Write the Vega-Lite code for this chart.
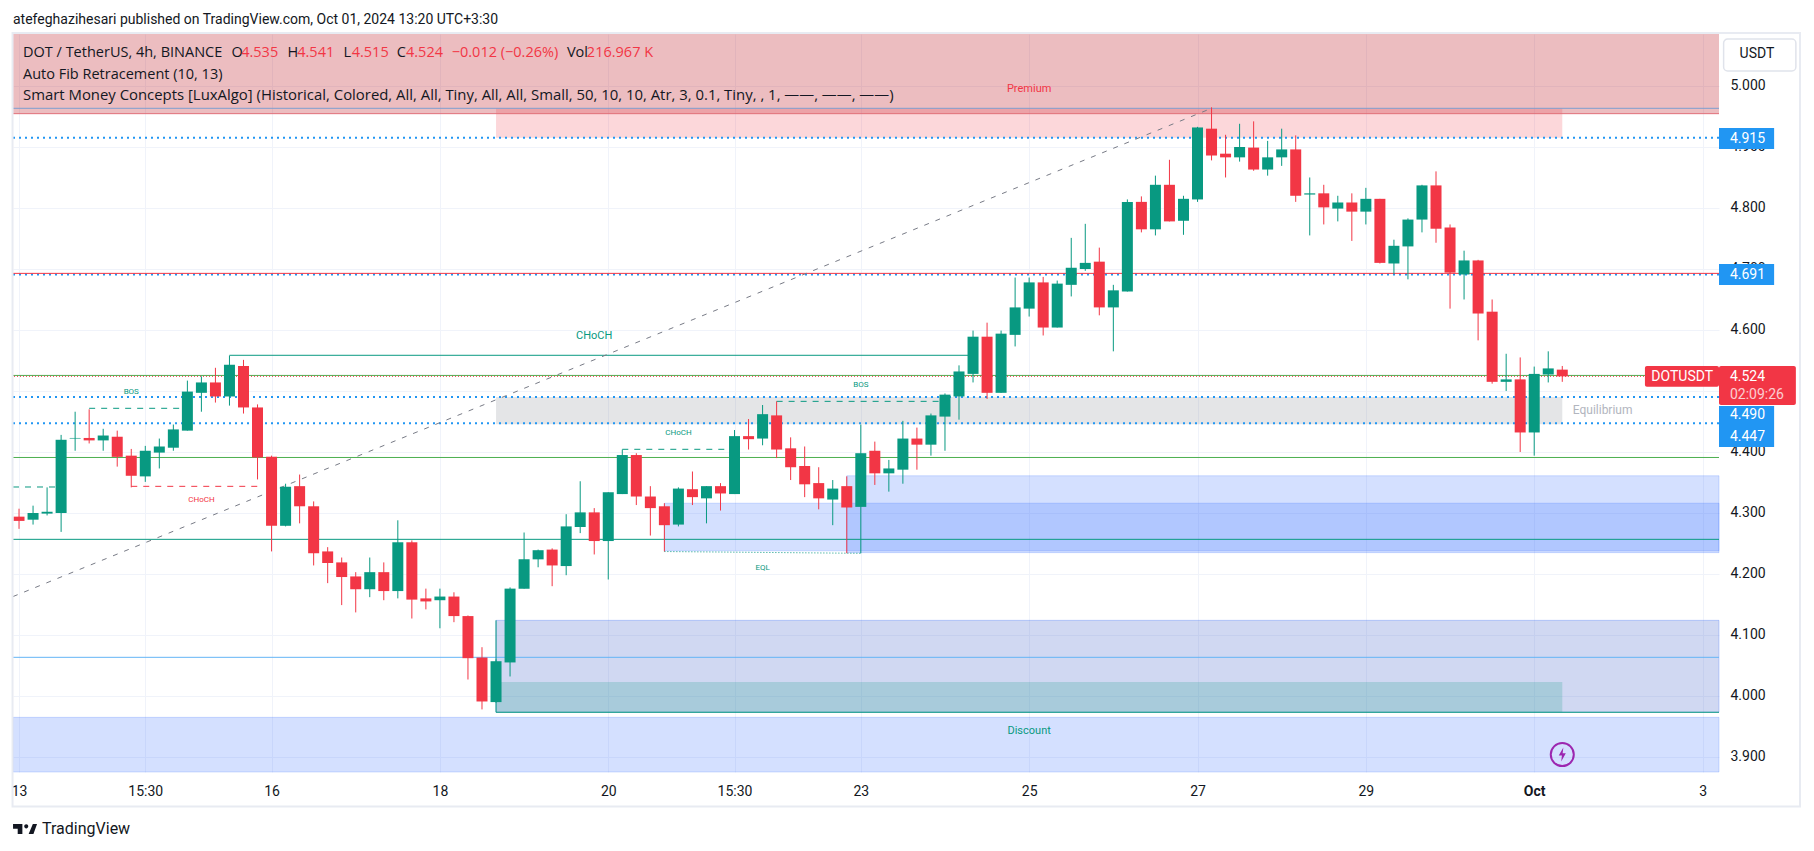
{
"$schema":"https://vega.github.io/schema/vega-lite/v6.json",
"width":1706,"height":738,"autosize":"none",
"padding":{"left":13,"top":34,"right":95,"bottom":79},
"background":"#ffffff",
"config":{"view":{"stroke":null},"text":{"font":"Roboto"}},
"resolve":{"axis":{"x":"independent","y":"independent"}},
"datasets":{
"candles":[
{"t":"2024-09-13T03:30:00","o":4.294,"h":4.307,"l":4.274,"c":4.287,"dir":"down"},
{"t":"2024-09-13T07:30:00","o":4.289,"h":4.312,"l":4.281,"c":4.3,"dir":"up"},
{"t":"2024-09-13T11:30:00","o":4.299,"h":4.342,"l":4.296,"c":4.302,"dir":"up"},
{"t":"2024-09-13T15:30:00","o":4.3,"h":4.428,"l":4.269,"c":4.42,"dir":"up"},
{"t":"2024-09-13T19:30:00","o":4.422,"h":4.466,"l":4.402,"c":4.423,"dir":"up"},
{"t":"2024-09-13T23:30:00","o":4.423,"h":4.47,"l":4.414,"c":4.419,"dir":"down"},
{"t":"2024-09-14T03:30:00","o":4.419,"h":4.438,"l":4.402,"c":4.427,"dir":"up"},
{"t":"2024-09-14T07:30:00","o":4.425,"h":4.435,"l":4.376,"c":4.392,"dir":"down"},
{"t":"2024-09-14T11:30:00","o":4.394,"h":4.405,"l":4.342,"c":4.361,"dir":"down"},
{"t":"2024-09-14T15:30:00","o":4.36,"h":4.41,"l":4.351,"c":4.402,"dir":"up"},
{"t":"2024-09-14T19:30:00","o":4.399,"h":4.422,"l":4.373,"c":4.409,"dir":"up"},
{"t":"2024-09-14T23:30:00","o":4.407,"h":4.445,"l":4.402,"c":4.437,"dir":"up"},
{"t":"2024-09-15T03:30:00","o":4.435,"h":4.517,"l":4.435,"c":4.499,"dir":"up"},
{"t":"2024-09-15T07:30:00","o":4.497,"h":4.524,"l":4.466,"c":4.514,"dir":"up"},
{"t":"2024-09-15T11:30:00","o":4.514,"h":4.538,"l":4.481,"c":4.491,"dir":"down"},
{"t":"2024-09-15T15:30:00","o":4.491,"h":4.558,"l":4.476,"c":4.543,"dir":"up"},
{"t":"2024-09-15T19:30:00","o":4.541,"h":4.551,"l":4.463,"c":4.473,"dir":"down"},
{"t":"2024-09-15T23:30:00","o":4.473,"h":4.478,"l":4.355,"c":4.391,"dir":"down"},
{"t":"2024-09-16T03:30:00","o":4.392,"h":4.394,"l":4.237,"c":4.279,"dir":"down"},
{"t":"2024-09-16T07:30:00","o":4.279,"h":4.348,"l":4.278,"c":4.343,"dir":"up"},
{"t":"2024-09-16T11:30:00","o":4.344,"h":4.363,"l":4.283,"c":4.311,"dir":"down"},
{"t":"2024-09-16T15:30:00","o":4.311,"h":4.319,"l":4.214,"c":4.234,"dir":"down"},
{"t":"2024-09-16T19:30:00","o":4.237,"h":4.244,"l":4.185,"c":4.218,"dir":"down"},
{"t":"2024-09-16T23:30:00","o":4.219,"h":4.227,"l":4.149,"c":4.195,"dir":"down"},
{"t":"2024-09-17T03:30:00","o":4.196,"h":4.203,"l":4.137,"c":4.175,"dir":"down"},
{"t":"2024-09-17T07:30:00","o":4.175,"h":4.227,"l":4.162,"c":4.203,"dir":"up"},
{"t":"2024-09-17T11:30:00","o":4.203,"h":4.219,"l":4.157,"c":4.172,"dir":"down"},
{"t":"2024-09-17T15:30:00","o":4.172,"h":4.288,"l":4.16,"c":4.252,"dir":"up"},
{"t":"2024-09-17T19:30:00","o":4.252,"h":4.255,"l":4.127,"c":4.158,"dir":"down"},
{"t":"2024-09-17T23:30:00","o":4.16,"h":4.176,"l":4.142,"c":4.155,"dir":"down"},
{"t":"2024-09-18T03:30:00","o":4.157,"h":4.176,"l":4.111,"c":4.163,"dir":"up"},
{"t":"2024-09-18T07:30:00","o":4.163,"h":4.17,"l":4.121,"c":4.131,"dir":"down"},
{"t":"2024-09-18T11:30:00","o":4.131,"h":4.132,"l":4.027,"c":4.062,"dir":"down"},
{"t":"2024-09-18T15:30:00","o":4.063,"h":4.08,"l":3.978,"c":3.991,"dir":"down"},
{"t":"2024-09-18T19:30:00","o":3.99,"h":4.06,"l":3.989,"c":4.057,"dir":"up"},
{"t":"2024-09-18T23:30:00","o":4.055,"h":4.178,"l":4.032,"c":4.176,"dir":"up"},
{"t":"2024-09-19T03:30:00","o":4.176,"h":4.268,"l":4.176,"c":4.224,"dir":"up"},
{"t":"2024-09-19T07:30:00","o":4.224,"h":4.24,"l":4.211,"c":4.239,"dir":"up"},
{"t":"2024-09-19T11:30:00","o":4.24,"h":4.242,"l":4.18,"c":4.214,"dir":"down"},
{"t":"2024-09-19T15:30:00","o":4.213,"h":4.298,"l":4.198,"c":4.278,"dir":"up"},
{"t":"2024-09-19T19:30:00","o":4.277,"h":4.352,"l":4.267,"c":4.301,"dir":"up"},
{"t":"2024-09-19T23:30:00","o":4.301,"h":4.308,"l":4.232,"c":4.254,"dir":"down"},
{"t":"2024-09-20T03:30:00","o":4.254,"h":4.334,"l":4.191,"c":4.334,"dir":"up"},
{"t":"2024-09-20T07:30:00","o":4.331,"h":4.404,"l":4.331,"c":4.395,"dir":"up"},
{"t":"2024-09-20T11:30:00","o":4.395,"h":4.398,"l":4.313,"c":4.327,"dir":"down"},
{"t":"2024-09-20T15:30:00","o":4.327,"h":4.344,"l":4.263,"c":4.308,"dir":"down"},
{"t":"2024-09-20T19:30:00","o":4.311,"h":4.316,"l":4.237,"c":4.28,"dir":"down"},
{"t":"2024-09-20T23:30:00","o":4.281,"h":4.342,"l":4.278,"c":4.34,"dir":"up"},
{"t":"2024-09-21T03:30:00","o":4.339,"h":4.368,"l":4.313,"c":4.326,"dir":"down"},
{"t":"2024-09-21T07:30:00","o":4.324,"h":4.344,"l":4.283,"c":4.344,"dir":"up"},
{"t":"2024-09-21T11:30:00","o":4.344,"h":4.349,"l":4.304,"c":4.332,"dir":"down"},
{"t":"2024-09-21T15:30:00","o":4.331,"h":4.436,"l":4.331,"c":4.426,"dir":"up"},
{"t":"2024-09-21T19:30:00","o":4.426,"h":4.454,"l":4.404,"c":4.421,"dir":"down"},
{"t":"2024-09-21T23:30:00","o":4.422,"h":4.477,"l":4.411,"c":4.462,"dir":"up"},
{"t":"2024-09-22T03:30:00","o":4.46,"h":4.483,"l":4.39,"c":4.404,"dir":"down"},
{"t":"2024-09-22T07:30:00","o":4.406,"h":4.424,"l":4.354,"c":4.375,"dir":"down"},
{"t":"2024-09-22T11:30:00","o":4.377,"h":4.409,"l":4.326,"c":4.347,"dir":"down"},
{"t":"2024-09-22T15:30:00","o":4.349,"h":4.375,"l":4.306,"c":4.324,"dir":"down"},
{"t":"2024-09-22T19:30:00","o":4.322,"h":4.354,"l":4.28,"c":4.34,"dir":"up"},
{"t":"2024-09-22T23:30:00","o":4.344,"h":4.36,"l":4.234,"c":4.309,"dir":"down"},
{"t":"2024-09-23T03:30:00","o":4.31,"h":4.445,"l":4.234,"c":4.398,"dir":"up"},
{"t":"2024-09-23T07:30:00","o":4.402,"h":4.417,"l":4.346,"c":4.365,"dir":"down"},
{"t":"2024-09-23T11:30:00","o":4.365,"h":4.387,"l":4.335,"c":4.373,"dir":"up"},
{"t":"2024-09-23T15:30:00","o":4.371,"h":4.451,"l":4.348,"c":4.422,"dir":"up"},
{"t":"2024-09-23T19:30:00","o":4.422,"h":4.44,"l":4.371,"c":4.412,"dir":"down"},
{"t":"2024-09-23T23:30:00","o":4.412,"h":4.463,"l":4.394,"c":4.46,"dir":"up"},
{"t":"2024-09-24T03:30:00","o":4.458,"h":4.496,"l":4.402,"c":4.494,"dir":"up"},
{"t":"2024-09-24T07:30:00","o":4.491,"h":4.542,"l":4.453,"c":4.532,"dir":"up"},
{"t":"2024-09-24T11:30:00","o":4.528,"h":4.599,"l":4.514,"c":4.589,"dir":"up"},
{"t":"2024-09-24T15:30:00","o":4.589,"h":4.612,"l":4.487,"c":4.497,"dir":"down"},
{"t":"2024-09-24T19:30:00","o":4.497,"h":4.599,"l":4.497,"c":4.594,"dir":"up"},
{"t":"2024-09-24T23:30:00","o":4.592,"h":4.686,"l":4.573,"c":4.637,"dir":"up"},
{"t":"2024-09-25T03:30:00","o":4.635,"h":4.686,"l":4.622,"c":4.678,"dir":"up"},
{"t":"2024-09-25T07:30:00","o":4.678,"h":4.687,"l":4.591,"c":4.604,"dir":"down"},
{"t":"2024-09-25T11:30:00","o":4.604,"h":4.681,"l":4.604,"c":4.676,"dir":"up"},
{"t":"2024-09-25T15:30:00","o":4.674,"h":4.751,"l":4.655,"c":4.702,"dir":"up"},
{"t":"2024-09-25T19:30:00","o":4.7,"h":4.774,"l":4.697,"c":4.71,"dir":"up"},
{"t":"2024-09-25T23:30:00","o":4.712,"h":4.735,"l":4.624,"c":4.637,"dir":"down"},
{"t":"2024-09-26T03:30:00","o":4.637,"h":4.674,"l":4.565,"c":4.665,"dir":"up"},
{"t":"2024-09-26T07:30:00","o":4.663,"h":4.814,"l":4.663,"c":4.81,"dir":"up"},
{"t":"2024-09-26T11:30:00","o":4.81,"h":4.819,"l":4.76,"c":4.765,"dir":"down"},
{"t":"2024-09-26T15:30:00","o":4.765,"h":4.853,"l":4.755,"c":4.838,"dir":"up"},
{"t":"2024-09-26T19:30:00","o":4.838,"h":4.879,"l":4.778,"c":4.778,"dir":"down"},
{"t":"2024-09-26T23:30:00","o":4.779,"h":4.82,"l":4.756,"c":4.815,"dir":"up"},
{"t":"2024-09-27T03:30:00","o":4.814,"h":4.933,"l":4.81,"c":4.932,"dir":"up"},
{"t":"2024-09-27T07:30:00","o":4.93,"h":4.965,"l":4.878,"c":4.886,"dir":"down"},
{"t":"2024-09-27T11:30:00","o":4.889,"h":4.92,"l":4.85,"c":4.883,"dir":"down"},
{"t":"2024-09-27T15:30:00","o":4.883,"h":4.938,"l":4.876,"c":4.9,"dir":"up"},
{"t":"2024-09-27T19:30:00","o":4.899,"h":4.942,"l":4.861,"c":4.863,"dir":"down"},
{"t":"2024-09-27T23:30:00","o":4.863,"h":4.91,"l":4.853,"c":4.883,"dir":"up"},
{"t":"2024-09-28T03:30:00","o":4.883,"h":4.93,"l":4.869,"c":4.896,"dir":"up"},
{"t":"2024-09-28T07:30:00","o":4.896,"h":4.919,"l":4.81,"c":4.82,"dir":"down"},
{"t":"2024-09-28T11:30:00","o":4.822,"h":4.85,"l":4.755,"c":4.824,"dir":"up"},
{"t":"2024-09-28T15:30:00","o":4.824,"h":4.838,"l":4.773,"c":4.801,"dir":"down"},
{"t":"2024-09-28T19:30:00","o":4.799,"h":4.82,"l":4.778,"c":4.809,"dir":"up"},
{"t":"2024-09-28T23:30:00","o":4.809,"h":4.824,"l":4.746,"c":4.794,"dir":"down"},
{"t":"2024-09-29T03:30:00","o":4.794,"h":4.833,"l":4.773,"c":4.815,"dir":"up"},
{"t":"2024-09-29T07:30:00","o":4.815,"h":4.815,"l":4.709,"c":4.71,"dir":"down"},
{"t":"2024-09-29T11:30:00","o":4.709,"h":4.748,"l":4.692,"c":4.738,"dir":"up"},
{"t":"2024-09-29T15:30:00","o":4.737,"h":4.783,"l":4.683,"c":4.781,"dir":"up"},
{"t":"2024-09-29T19:30:00","o":4.781,"h":4.838,"l":4.76,"c":4.837,"dir":"up"},
{"t":"2024-09-29T23:30:00","o":4.837,"h":4.86,"l":4.743,"c":4.766,"dir":"down"},
{"t":"2024-09-30T03:30:00","o":4.768,"h":4.773,"l":4.635,"c":4.694,"dir":"down"},
{"t":"2024-09-30T07:30:00","o":4.691,"h":4.73,"l":4.65,"c":4.714,"dir":"up"},
{"t":"2024-09-30T11:30:00","o":4.714,"h":4.715,"l":4.583,"c":4.627,"dir":"down"},
{"t":"2024-09-30T15:30:00","o":4.63,"h":4.65,"l":4.512,"c":4.515,"dir":"down"},
{"t":"2024-09-30T19:30:00","o":4.515,"h":4.561,"l":4.5,"c":4.519,"dir":"up"},
{"t":"2024-09-30T23:30:00","o":4.519,"h":4.555,"l":4.4,"c":4.432,"dir":"down"},
{"t":"2024-10-01T03:30:00","o":4.432,"h":4.54,"l":4.394,"c":4.528,"dir":"up"},
{"t":"2024-10-01T07:30:00","o":4.527,"h":4.565,"l":4.514,"c":4.537,"dir":"up"},
{"t":"2024-10-01T11:30:00","o":4.535,"h":4.541,"l":4.515,"c":4.524,"dir":"down"}
]
},
"layer":[
{"data":{"values":[{"from":"2024-09-13T01:47:00","to":"2024-10-03T08:11:00","bottom":4.9546,"top":5.0852}],"format":{"parse":{"from":"date","to":"date"}}},
 "mark":{"type":"rect","fill":"#c0232d","fillOpacity":0.3},
 "encoding":{
  "x":{"field":"from","type":"temporal","title":null,
   "scale":{"padding":0,"domain":[{"year":2024,"month":9,"date":13,"hours":1,"minutes":47},{"year":2024,"month":10,"date":3,"hours":8,"minutes":11}]},
   "axis":{"orient":"bottom","title":null,"domain":false,"ticks":false,"grid":true,"gridColor":"#f0f3fa","gridWidth":1,"labelFont":"Roboto","labelFontSize":14,"labelColor":"#131722","labelPadding":12,"labelOverlap":false,"labelFlush":false,
    "values":[{"year":2024,"month":9,"date":13,"hours":3,"minutes":30},{"year":2024,"month":9,"date":14,"hours":15,"minutes":30},{"year":2024,"month":9,"date":16,"hours":3,"minutes":30},{"year":2024,"month":9,"date":18,"hours":3,"minutes":30},{"year":2024,"month":9,"date":20,"hours":3,"minutes":30},{"year":2024,"month":9,"date":21,"hours":15,"minutes":30},{"year":2024,"month":9,"date":23,"hours":3,"minutes":30},{"year":2024,"month":9,"date":25,"hours":3,"minutes":30},{"year":2024,"month":9,"date":27,"hours":3,"minutes":30},{"year":2024,"month":9,"date":29,"hours":3,"minutes":30},{"year":2024,"month":10,"date":1,"hours":3,"minutes":30},{"year":2024,"month":10,"date":3,"hours":3,"minutes":30}],
    "labelExpr":"hours(datum.value)==15 ? '15:30' : (month(datum.value)==9 && date(datum.value)==1 ? 'Oct' : timeFormat(datum.value,'%-d'))",
    "labelFontWeight":{"condition":{"test":"month(datum.value)==9 && date(datum.value)==1","value":"bold"},"value":"normal"}}},
  "x2":{"field":"to"},
  "y":{"field":"bottom","type":"quantitative","title":null,
   "scale":{"domain":[3.8754,5.0852],"nice":false,"zero":false},
   "axis":{"orient":"right","title":null,"domain":false,"ticks":false,"grid":true,"gridColor":"#f0f3fa","gridWidth":1,"labelFont":"Roboto","labelFontSize":14,"labelColor":"#131722","labelPadding":11,"labelOverlap":false,"format":".3f","values":[3.9,4.0,4.1,4.2,4.3,4.4,4.5,4.6,4.7,4.8,4.9,5.0]}},
  "y2":{"field":"top"}}},
{"data":{"values":[{"from":"2024-09-13T01:47:00","to":"2024-10-03T08:11:00","bottom":3.8754,"top":3.965},{"from":"2024-09-22T23:30:00","to":"2024-10-03T08:11:00","bottom":4.235,"top":4.361},{"from":"2024-09-20T19:30:00","to":"2024-10-03T08:11:00","bottom":4.238,"top":4.316}],"format":{"parse":{"from":"date","to":"date"}}},
 "mark":{"type":"rect","fill":"#2962ff","fillOpacity":0.2,"stroke":"#2962ff","strokeOpacity":0.2,"strokeWidth":1},
 "encoding":{"x":{"field":"from","type":"temporal","axis":null},"x2":{"field":"to"},"y":{"field":"bottom","type":"quantitative","axis":null},"y2":{"field":"top"}}},
{"data":{"values":[{"from":"2024-09-18T19:30:00","to":"2024-10-03T08:11:00","bottom":3.9733,"top":4.124}],"format":{"parse":{"from":"date","to":"date"}}},
 "mark":{"type":"rect","fill":"#4363cb","fillOpacity":0.25,"stroke":"#2962ff","strokeOpacity":0.25,"strokeWidth":1},
 "encoding":{"x":{"field":"from","type":"temporal","axis":null},"x2":{"field":"to"},"y":{"field":"bottom","type":"quantitative","axis":null},"y2":{"field":"top"}}},
{"data":{"values":[{"from":"2024-09-18T19:30:00","to":"2024-10-01T11:30:00","bottom":3.9733,"top":4.023}],"format":{"parse":{"from":"date","to":"date"}}},
 "mark":{"type":"rect","fill":"#089981","fillOpacity":0.2},
 "encoding":{"x":{"field":"from","type":"temporal","axis":null},"x2":{"field":"to"},"y":{"field":"bottom","type":"quantitative","axis":null},"y2":{"field":"top"}}},
{"data":{"values":[{"from":"2024-09-18T19:30:00","to":"2024-10-01T11:30:00","bottom":4.915,"top":4.9634}],"format":{"parse":{"from":"date","to":"date"}}},
 "mark":{"type":"rect","fill":"#f23645","fillOpacity":0.2},
 "encoding":{"x":{"field":"from","type":"temporal","axis":null},"x2":{"field":"to"},"y":{"field":"bottom","type":"quantitative","axis":null},"y2":{"field":"top"}}},
{"data":{"values":[{"from":"2024-09-18T19:30:00","to":"2024-10-01T11:30:00","bottom":4.4455,"top":4.49}],"format":{"parse":{"from":"date","to":"date"}}},
 "mark":{"type":"rect","fill":"#787b86","fillOpacity":0.2},
 "encoding":{"x":{"field":"from","type":"temporal","axis":null},"x2":{"field":"to"},"y":{"field":"bottom","type":"quantitative","axis":null},"y2":{"field":"top"}}},
{"data":{"values":[{"level":4.915},{"level":4.691},{"level":4.49},{"level":4.447}]},
 "mark":{"type":"rule","stroke":"#2196f3","strokeWidth":2,"strokeDash":[2,4]},
 "encoding":{"y":{"field":"level","type":"quantitative","axis":null}}},
{"data":{"values":[{"level":4.9634}]},"mark":{"type":"rule","stroke":"#7e9ed0","strokeWidth":1},"encoding":{"y":{"field":"level","type":"quantitative","axis":null}}},
{"data":{"values":[{"level":4.9546}]},"mark":{"type":"rule","stroke":"#e0707a","strokeWidth":1},"encoding":{"y":{"field":"level","type":"quantitative","axis":null}}},
{"data":{"values":[{"level":4.6928}]},"mark":{"type":"rule","stroke":"#f23645","strokeWidth":1},"encoding":{"y":{"field":"level","type":"quantitative","axis":null}}},
{"data":{"values":[{"level":4.5255},{"level":4.391}]},"mark":{"type":"rule","stroke":"#4caf50","strokeWidth":1},"encoding":{"y":{"field":"level","type":"quantitative","axis":null}}},
{"data":{"values":[{"level":4.524}]},"mark":{"type":"rule","stroke":"#f23645","strokeWidth":1,"strokeDash":[1,2]},"encoding":{"y":{"field":"level","type":"quantitative","axis":null}}},
{"data":{"values":[{"level":4.2568}]},"mark":{"type":"rule","stroke":"#089981","strokeWidth":1},"encoding":{"y":{"field":"level","type":"quantitative","axis":null}}},
{"data":{"values":[{"level":4.0634}]},"mark":{"type":"rule","stroke":"#64b5f6","strokeWidth":1},"encoding":{"y":{"field":"level","type":"quantitative","axis":null}}},
{"data":{"values":[{"from":"2024-09-15T15:30:00","to":"2024-09-24T11:30:00","p1":4.5585,"p2":4.5585},{"from":"2024-09-18T19:30:00","to":"2024-10-03T08:11:00","p1":3.9733,"p2":3.9733},{"from":"2024-09-18T19:30:00","to":"2024-09-18T19:30:00","p1":3.9733,"p2":4.124}],"format":{"parse":{"from":"date","to":"date"}}},
 "mark":{"type":"rule","stroke":"#089981","strokeWidth":1},
 "encoding":{"x":{"field":"from","type":"temporal","axis":null},"x2":{"field":"to"},"y":{"field":"p1","type":"quantitative","axis":null},"y2":{"field":"p2"}}},
{"data":{"values":[{"from":"2024-09-13T01:47:00","to":"2024-09-13T15:30:00","p1":4.3426,"p2":4.3426},{"from":"2024-09-13T23:30:00","to":"2024-09-15T03:30:00","p1":4.4716,"p2":4.4716},{"from":"2024-09-20T07:30:00","to":"2024-09-21T15:30:00","p1":4.4044,"p2":4.4044},{"from":"2024-09-22T03:30:00","to":"2024-09-24T03:30:00","p1":4.483,"p2":4.483}],"format":{"parse":{"from":"date","to":"date"}}},
 "mark":{"type":"rule","stroke":"#089981","strokeWidth":1,"strokeDash":[6,6]},
 "encoding":{"x":{"field":"from","type":"temporal","axis":null},"x2":{"field":"to"},"y":{"field":"p1","type":"quantitative","axis":null},"y2":{"field":"p2"}}},
{"data":{"values":[{"from":"2024-09-14T11:30:00","to":"2024-09-15T23:30:00","p1":4.3437,"p2":4.3437}],"format":{"parse":{"from":"date","to":"date"}}},
 "mark":{"type":"rule","stroke":"#f23645","strokeWidth":1,"strokeDash":[6,6]},
 "encoding":{"x":{"field":"from","type":"temporal","axis":null},"x2":{"field":"to"},"y":{"field":"p1","type":"quantitative","axis":null},"y2":{"field":"p2"}}},
{"data":{"values":[{"from":"2024-09-20T19:30:00","to":"2024-09-23T03:30:00","p1":4.2368,"p2":4.2339}],"format":{"parse":{"from":"date","to":"date"}}},
 "mark":{"type":"rule","stroke":"#089981","strokeWidth":1,"strokeDash":[1,2]},
 "encoding":{"x":{"field":"from","type":"temporal","axis":null},"x2":{"field":"to"},"y":{"field":"p1","type":"quantitative","axis":null},"y2":{"field":"p2"}}},
{"data":{"values":[{"from":"2024-09-13T01:47:00","to":"2024-09-27T07:30:00","p1":4.163,"p2":4.9634}],"format":{"parse":{"from":"date","to":"date"}}},
 "mark":{"type":"rule","stroke":"#787b86","strokeWidth":1,"strokeDash":[5,7]},
 "encoding":{"x":{"field":"from","type":"temporal","axis":null},"x2":{"field":"to"},"y":{"field":"p1","type":"quantitative","axis":null},"y2":{"field":"p2"}}},
{"data":{"name":"candles"},
 "mark":{"type":"rule","strokeWidth":1},
 "encoding":{"x":{"field":"t","type":"temporal","axis":null},"y":{"field":"l","type":"quantitative","axis":null},"y2":{"field":"h"},
  "color":{"field":"dir","type":"nominal","legend":null,"scale":{"domain":["up","down"],"range":["#089981","#f23645"]}}}},
{"data":{"name":"candles"},
 "mark":{"type":"bar","size":11},
 "encoding":{"x":{"field":"t","type":"temporal","axis":null},"y":{"field":"o","type":"quantitative","axis":null},"y2":{"field":"c"},
  "color":{"field":"dir","type":"nominal","legend":null}}},
{"data":{"values":[{"t":"2024-09-19T23:30:00","p":4.5907,"label":"CHoCH"},{"t":"2024-09-25T03:30:00","p":3.9426,"label":"Discount"}]},
 "mark":{"type":"text","fontSize":11,"color":"#089981","align":"center","baseline":"middle"},
 "encoding":{"x":{"field":"t","type":"temporal","axis":null},"y":{"field":"p","type":"quantitative","axis":null},"text":{"field":"label"}}},
{"data":{"values":[{"t":"2024-09-25T03:30:00","p":4.995,"label":"Premium"}]},
 "mark":{"type":"text","fontSize":11,"color":"#f23645","align":"center","baseline":"middle"},
 "encoding":{"x":{"field":"t","type":"temporal","axis":null},"y":{"field":"p","type":"quantitative","axis":null},"text":{"field":"label"}}},
{"data":{"values":[{"t":"2024-10-01T23:00:00","p":4.4689,"label":"Equilibrium"}]},
 "mark":{"type":"text","fontSize":12,"color":"#b2b5be","align":"center","baseline":"middle"},
 "encoding":{"x":{"field":"t","type":"temporal","axis":null},"y":{"field":"p","type":"quantitative","axis":null},"text":{"field":"label"}}},
{"data":{"values":[{"t":"2024-09-14T11:30:00","p":4.498,"label":"BOS"},{"t":"2024-09-23T03:30:00","p":4.5098,"label":"BOS"},{"t":"2024-09-20T23:30:00","p":4.4316,"label":"CHoCH"},{"t":"2024-09-21T23:30:00","p":4.2098,"label":"EQL"}]},
 "mark":{"type":"text","fontSize":8,"color":"#089981","align":"center","baseline":"middle"},
 "encoding":{"x":{"field":"t","type":"temporal","axis":null},"y":{"field":"p","type":"quantitative","axis":null},"text":{"field":"label"}}},
{"data":{"values":[{"t":"2024-09-15T07:30:00","p":4.3213,"label":"CHoCH"}]},
 "mark":{"type":"text","fontSize":8,"color":"#f23645","align":"center","baseline":"middle"},
 "encoding":{"x":{"field":"t","type":"temporal","axis":null},"y":{"field":"p","type":"quantitative","axis":null},"text":{"field":"label"}}},
{"data":{"values":[{"t":"2024-10-01T11:30:00","p":3.904}]},
 "mark":{"type":"point","shape":"circle","size":531,"filled":false,"stroke":"#9c27b0","strokeWidth":2,"opacity":1},
 "encoding":{"x":{"field":"t","type":"temporal","axis":null},"y":{"field":"p","type":"quantitative","axis":null}}},
{"data":{"values":[{"t":"2024-10-01T11:30:00","p":3.904}]},
 "mark":{"type":"point","shape":"M 0.15 -1 L -0.5 0.15 L -0.05 0.15 L -0.15 1 L 0.5 -0.2 L 0.05 -0.2 Z","size":200,"filled":true,"fill":"#9c27b0","opacity":1},
 "encoding":{"x":{"field":"t","type":"temporal","axis":null},"y":{"field":"p","type":"quantitative","axis":null}}},
{"data":{"values":[{"from":"2024-10-03T08:11:00","to":"2024-10-03T23:54:00","bottom":4.8967,"top":4.9311},{"from":"2024-10-03T08:11:00","to":"2024-10-03T23:54:00","bottom":4.6738,"top":4.7082},{"from":"2024-10-03T08:11:00","to":"2024-10-03T23:54:00","bottom":4.441,"top":4.4754},{"from":"2024-10-03T08:11:00","to":"2024-10-03T23:54:00","bottom":4.408,"top":4.441}],"format":{"parse":{"from":"date","to":"date"}}},
 "mark":{"type":"rect","fill":"#2196f3"},
 "encoding":{"x":{"field":"from","type":"temporal","axis":null},"x2":{"field":"to"},"y":{"field":"bottom","type":"quantitative","axis":null},"y2":{"field":"top"}}},
{"data":{"values":[{"from":"2024-10-03T08:11:00","to":"2024-10-04T06:06:00","bottom":4.477,"top":4.541},{"from":"2024-10-02T11:04:00","to":"2024-10-03T08:11:00","bottom":4.507,"top":4.541}],"format":{"parse":{"from":"date","to":"date"}}},
 "mark":{"type":"rect","fill":"#f23645","cornerRadius":2},
 "encoding":{"x":{"field":"from","type":"temporal","axis":null},"x2":{"field":"to"},"y":{"field":"bottom","type":"quantitative","axis":null},"y2":{"field":"top"}}},
{"data":{"values":[{"t":"2024-10-03T11:18:00","p":4.9131,"label":"4.915"},{"t":"2024-10-03T11:18:00","p":4.6902,"label":"4.691"},{"t":"2024-10-03T11:18:00","p":4.4602,"label":"4.490"},{"t":"2024-10-03T11:18:00","p":4.4251,"label":"4.447"},{"t":"2024-10-03T11:18:00","p":4.5225,"label":"4.524"}]},
 "mark":{"type":"text","fontSize":14,"color":"#ffffff","align":"left","baseline":"middle"},
 "encoding":{"x":{"field":"t","type":"temporal","axis":null},"y":{"field":"p","type":"quantitative","axis":null},"text":{"field":"label"}}},
{"data":{"values":[{"t":"2024-10-03T11:18:00","p":4.4934,"label":"02:09:26"}]},
 "mark":{"type":"text","fontSize":14,"color":"#ffffff","opacity":0.75,"align":"left","baseline":"middle"},
 "encoding":{"x":{"field":"t","type":"temporal","axis":null},"y":{"field":"p","type":"quantitative","axis":null},"text":{"field":"label"}}},
{"data":{"values":[{"t":"2024-10-02T21:42:00","p":4.5235,"label":"DOTUSDT"}]},
 "mark":{"type":"text","fontSize":14,"color":"#ffffff","align":"center","baseline":"middle"},
 "encoding":{"x":{"field":"t","type":"temporal","axis":null},"y":{"field":"p","type":"quantitative","axis":null},"text":{"field":"label"}}},
{"data":{"values":[{"from":"2024-10-03T09:30:00","to":"2024-10-04T06:06:00","bottom":5.0246,"top":5.077}],"format":{"parse":{"from":"date","to":"date"}}},
 "mark":{"type":"rect","fill":"#ffffff","stroke":"#e0e3eb","strokeWidth":1.5,"cornerRadius":4},
 "encoding":{"x":{"field":"from","type":"temporal","axis":null},"x2":{"field":"to"},"y":{"field":"bottom","type":"quantitative","axis":null},"y2":{"field":"top"}}},
{"data":{"values":[{"t":"2024-10-03T19:00:00","p":5.0525,"label":"USDT"}]},
 "mark":{"type":"text","fontSize":14,"color":"#131722","align":"center","baseline":"middle"},
 "encoding":{"x":{"field":"t","type":"temporal","axis":null},"y":{"field":"p","type":"quantitative","axis":null},"text":{"field":"label"}}},
{"data":{"values":[{"from":"2024-09-13T01:39:00","to":"2024-10-04T07:17:00","bottom":3.8189,"top":5.0868}],"format":{"parse":{"from":"date","to":"date"}}},
 "mark":{"type":"rect","fill":null,"fillOpacity":0,"stroke":"#e8ebf2","strokeWidth":2},
 "encoding":{"x":{"field":"from","type":"temporal","axis":null},"x2":{"field":"to"},"y":{"field":"bottom","type":"quantitative","axis":null},"y2":{"field":"top"}}},
{"data":{"values":[{"t":"2024-09-13T04:38:00","p":5.0536,"label":"DOT / TetherUS, 4h, BINANCE"},{"t":"2024-09-13T04:38:00","p":5.018,"label":"Auto Fib Retracement (10, 13)"},{"t":"2024-09-15T16:03:00","p":5.0536,"label":"O"},{"t":"2024-09-16T08:03:00","p":5.0536,"label":"H"},{"t":"2024-09-17T00:02:00","p":5.0536,"label":"L"},{"t":"2024-09-17T15:12:00","p":5.0536,"label":"C"},{"t":"2024-09-19T15:42:00","p":5.0536,"label":"Vol"}]},
 "mark":{"type":"text","font":"Open Sans","fontSize":14.5,"color":"#131722","align":"left","baseline":"middle"},
 "encoding":{"x":{"field":"t","type":"temporal","axis":null},"y":{"field":"p","type":"quantitative","axis":null},"text":{"field":"label"}}},
{"data":{"values":[{"t":"2024-09-13T04:38:00","p":4.9836,"label":"Smart Money Concepts [LuxAlgo] (Historical, Colored, All, All, Tiny, All, All, Small, 50, 10, 10, Atr, 3, 0.1, Tiny, , 1, ——, ——, ——)"}]},
 "mark":{"type":"text","font":"Open Sans","fontSize":14.9,"color":"#131722","align":"left","baseline":"middle"},
 "encoding":{"x":{"field":"t","type":"temporal","axis":null},"y":{"field":"p","type":"quantitative","axis":null},"text":{"field":"label"}}},
{"data":{"values":[{"t":"2024-09-15T18:51:00","p":5.0536,"label":"4.535"},{"t":"2024-09-16T10:50:00","p":5.0536,"label":"4.541"},{"t":"2024-09-17T02:21:00","p":5.0536,"label":"4.515"},{"t":"2024-09-17T17:50:00","p":5.0536,"label":"4.524"},{"t":"2024-09-18T06:52:00","p":5.0536,"label":"−0.012 (−0.26%)"},{"t":"2024-09-19T21:24:00","p":5.0536,"label":"216.967 K"}]},
 "mark":{"type":"text","font":"Open Sans","fontSize":14.5,"color":"#f23645","align":"left","baseline":"middle"},
 "encoding":{"x":{"field":"t","type":"temporal","axis":null},"y":{"field":"p","type":"quantitative","axis":null},"text":{"field":"label"}}},
{"data":{"values":[{"t":"2024-09-13T01:47:00","p":5.1082,"label":"atefeghazihesari published on TradingView.com, Oct 01, 2024 13:20 UTC+3:30"}]},
 "mark":{"type":"text","fontSize":14,"color":"#131722","align":"left","baseline":"middle"},
 "encoding":{"x":{"field":"t","type":"temporal","axis":null},"y":{"field":"p","type":"quantitative","axis":null},"text":{"field":"label"}}},
{"data":{"values":[{"t":"2024-09-13T10:04:00","p":3.782,"label":"TradingView"}]},
 "mark":{"type":"text","fontSize":16,"color":"#131722","align":"left","baseline":"middle"},
 "encoding":{"x":{"field":"t","type":"temporal","axis":null},"y":{"field":"p","type":"quantitative","axis":null},"text":{"field":"label"}}},
{"data":{"values":[{"t":"2024-09-13T05:13:00","p":3.782}]},
 "mark":{"type":"point","shape":"M-0.222 -0.417 H-1 V-0.028 H-0.611 V0.417 H-0.222 Z M0.7 0.417 H0.3 L0.65 -0.417 H1 Z M-0.07 -0.22 A0.17 0.17 0 1 0 0.27 -0.22 A0.17 0.17 0 1 0 -0.07 -0.22 Z","size":576,"filled":true,"fill":"#131722","opacity":1},
 "encoding":{"x":{"field":"t","type":"temporal","axis":null},"y":{"field":"p","type":"quantitative","axis":null}}}
]
}
